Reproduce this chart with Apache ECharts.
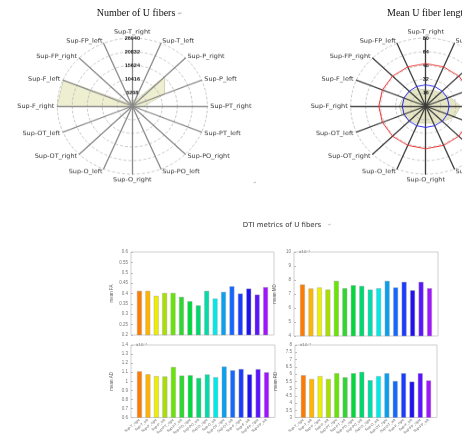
<!DOCTYPE html>
<html>
<head>
<meta charset="utf-8">
<script src="https://cdn.jsdelivr.net/npm/echarts@6/dist/echarts.min.js"></script>
<style>
  html, body { margin: 0; padding: 0; background: #fff; }
  #main  { position: absolute; left: 0; top: 0; width: 462px; height: 437px; }
  /* the polar figures are slightly flattened vertically */
  #polar { position: absolute; left: 0; top: 0; width: 462px; height: 240px;
           transform: scaleY(0.907); transform-origin: 0 0; }
</style>
</head>
<body>
<div id="main"></div>
<div id="polar"></div>
<script>
// Regions, clockwise from the top spoke
const regions = ['Sup-T_right', 'Sup-T_left', 'Sup-P_right', 'Sup-P_left',
  'Sup-PT_right', 'Sup-PT_left', 'Sup-PO_right', 'Sup-PO_left',
  'Sup-O_right', 'Sup-O_left', 'Sup-OT_right', 'Sup-OT_left',
  'Sup-F_right', 'Sup-F_left', 'Sup-FP_right', 'Sup-FP_left'];

// Number of U fibers per region
const fiberCount = [2600, 2000, 15900, 12000, 3900, 1500, 800, 600,
  500, 500, 600, 800, 26040, 25800, 1200, 1500];
const fiberCountMax = 26040;

// Mean U fiber length per region
const fiberLength = [19, 20, 22, 28, 37, 33, 25, 22,
  19, 22, 24, 27, 28, 26, 24, 22];
const fiberLengthMax = 80;
const lengthRefHigh = 50;
const lengthRefLow = 25;

// DTI metrics per region (in the units shown on each axis)
const meanFA = [0.413, 0.413, 0.389, 0.403, 0.403, 0.384, 0.363, 0.343,
  0.413, 0.376, 0.408, 0.435, 0.400, 0.424, 0.395, 0.431];
const meanMD = [7.68, 7.40, 7.47, 7.32, 7.94, 7.42, 7.63, 7.58,
  7.32, 7.42, 7.94, 7.47, 7.87, 7.27, 7.87, 7.42];          // x10^-4
const meanAD = [1.110, 1.078, 1.058, 1.054, 1.158, 1.063, 1.067, 1.037,
  1.076, 1.046, 1.163, 1.122, 1.136, 1.076, 1.134, 1.100];  // x10^-3
const meanRD = [5.92, 5.66, 5.86, 5.66, 6.06, 5.78, 6.06, 6.15,
  5.58, 5.86, 6.06, 5.52, 6.06, 5.48, 6.06, 5.56];          // x10^-4

const barColors = ['#ff7a00', '#ffb400', '#eeee00', '#a8e000', '#66e600', '#2ed82e',
  '#00d83c', '#00d870', '#00dcaa', '#00eaea', '#0aa0f0', '#1468ff',
  '#1a3cff', '#1e10f0', '#5a14ff', '#a014ff'];

// ---------- polar figures ----------
// ECharts lays indicators counter-clockwise, so keep the first and reverse the rest
function ccw(arr) { return [arr[0]].concat(arr.slice(1).reverse()); }

function indicators(max, tickColor) {
  return ccw(regions).map((name, i) => {
    const ind = { name: name, min: 0, max: max };
    if (i === 0) {
      ind.axisLabel = {
        show: true, fontSize: 5.5, color: tickColor, fontWeight: 'bold', margin: 0,
        align: 'center', verticalAlign: 'middle', showMinLabel: false,
        formatter: v => (v === 0 ? '' : String(Math.round(v)))
      };
    }
    return ind;
  });
}

function radarCfg(cx, max, spokeColor) {
  return {
    center: [cx, 117], radius: 75, startAngle: 90, splitNumber: 5, shape: 'circle',
    indicator: indicators(max, '#222'),
    axisName: { color: '#333', fontSize: 6.5, fontFamily: 'DejaVu Sans' },
    nameGap: 3,
    axisLabel: { show: false },
    axisLine: { lineStyle: { color: spokeColor, width: 1.3 } },
    splitLine: { lineStyle: { color: '#b8b8b8', type: [3, 2], width: 0.8 } },
    splitArea: { show: false }
  };
}

const polar = echarts.init(document.getElementById('polar'), null, { renderer: 'canvas' });
polar.setOption({
  animation: false,
  radar: [radarCfg(132.3, fiberCountMax, '#8a8a8a'), radarCfg(425.7, fiberLengthMax, '#3c3c3c')],
  series: [
    { type: 'radar', radarIndex: 0, z: -1, symbol: 'none',
      lineStyle: { color: '#a6a67a', width: 0.8 },
      areaStyle: { color: '#eeeed0', opacity: 1 },
      data: [{ value: ccw(fiberCount) }] },
    { type: 'radar', radarIndex: 1, z: -1, symbol: 'none',
      lineStyle: { color: '#a6a67a', width: 0.8 },
      areaStyle: { color: '#e6e6c6', opacity: 1 },
      data: [{ value: ccw(fiberLength) }] },
    { type: 'radar', radarIndex: 1, symbol: 'none', silent: true,
      lineStyle: { color: '#f03030', width: 1 },
      data: [{ value: regions.map(() => lengthRefHigh) }] },
    { type: 'radar', radarIndex: 1, symbol: 'none', silent: true,
      lineStyle: { color: '#2a2af0', width: 1 },
      data: [{ value: regions.map(() => lengthRefLow) }] }
  ]
});

// ---------- bar panels ----------
const panels = [
  { data: meanFA, name: 'mean FA', min: 0.2, max: 0.6, step: 0.05, exp: '',      left: 131, top: 252, width: 143, height: 83, xLabels: false },
  { data: meanMD, name: 'mean MD', min: 4,   max: 10,  step: 1,    exp: 'x10\u207B\u2074', left: 294, top: 252, width: 144, height: 84, xLabels: false },
  { data: meanAD, name: 'mean AD', min: 0.6, max: 1.4, step: 0.1,  exp: 'x10\u207B\u00B3', left: 131, top: 345, width: 144, height: 83, xLabels: true },
  { data: meanRD, name: 'mean RD', min: 3,   max: 8,   step: 0.5,  exp: 'x10\u207B\u2074', left: 295, top: 345, width: 142, height: 84, xLabels: true }
];

const grids = [], xAxes = [], yAxes = [], series = [];
panels.forEach((p, k) => {
  grids.push({ left: p.left, top: p.top, width: p.width, height: p.height,
    show: true, borderColor: '#cfcfcf', borderWidth: 1, backgroundColor: 'transparent' });
  xAxes.push({
    gridIndex: k, type: 'value', min: 0, max: 17, interval: 1,
    axisLine: { show: false }, axisTick: { show: false }, splitLine: { show: false },
    axisLabel: {
      show: p.xLabels, fontSize: 3.6, color: '#666', rotate: 40, margin: 2,
      formatter: v => (v >= 1 && v <= regions.length ? regions[v - 1] : '')
    }
  });
  yAxes.push({
    gridIndex: k, type: 'value', min: p.min, max: p.max, interval: p.step,
    name: p.name, nameLocation: 'middle', nameGap: 17, nameRotate: 90,
    nameTextStyle: { fontSize: 4.5, color: '#666' },
    axisLine: { show: false },
    axisTick: { show: true, inside: true, length: 2, lineStyle: { color: '#bbb' } },
    splitLine: { show: false },
    axisLabel: { fontSize: 4.5, color: '#777', margin: 3 }
  });
  series.push({
    type: 'bar', xAxisIndex: k, yAxisIndex: k, barWidth: 5,
    itemStyle: { borderColor: 'rgba(160,160,160,0.7)', borderWidth: 0.6 },
    data: p.data.map((v, i) => ({ value: [i + 1, v], itemStyle: { color: barColors[i] } }))
  });
});

const graphics = [
  { type: 'text', style: { text: 'Number of U fibers', x: 136, y: 13, align: 'center', verticalAlign: 'middle',
      font: '10px "Liberation Serif"', fill: '#111' } },
  { type: 'text', style: { text: '\u21B5', x: 178, y: 14, align: 'left', verticalAlign: 'middle',
      font: '5px "DejaVu Sans"', fill: '#999' } },
  { type: 'text', style: { text: 'Mean U fiber length', x: 387, y: 13, align: 'left', verticalAlign: 'middle',
      font: '10px "Liberation Serif"', fill: '#111' } },
  { type: 'text', style: { text: '\u21B5', x: 255, y: 183, align: 'center', verticalAlign: 'middle',
      font: '4px "DejaVu Sans"', fill: '#aaa' } },
  { type: 'text', style: { text: 'DTI metrics of U fibers', x: 282, y: 225.5, align: 'center', verticalAlign: 'middle',
      font: '7px "DejaVu Sans"', fill: '#333' } },
  { type: 'text', style: { text: '\u21B5', x: 328, y: 225, align: 'left', verticalAlign: 'middle',
      font: '4px "DejaVu Sans"', fill: '#aaa' } }
];
panels.forEach(p => {
  if (p.exp) {
    graphics.push({ type: 'text', style: { text: p.exp, x: p.left + 5, y: p.top, align: 'left', verticalAlign: 'middle',
      font: '4px "DejaVu Sans"', fill: '#777' } });
  }
});

const main = echarts.init(document.getElementById('main'), null, { renderer: 'canvas' });
main.setOption({
  animation: false,
  backgroundColor: '#fff',
  grid: grids, xAxis: xAxes, yAxis: yAxes, series: series,
  graphic: graphics
});
</script>
</body>
</html>
